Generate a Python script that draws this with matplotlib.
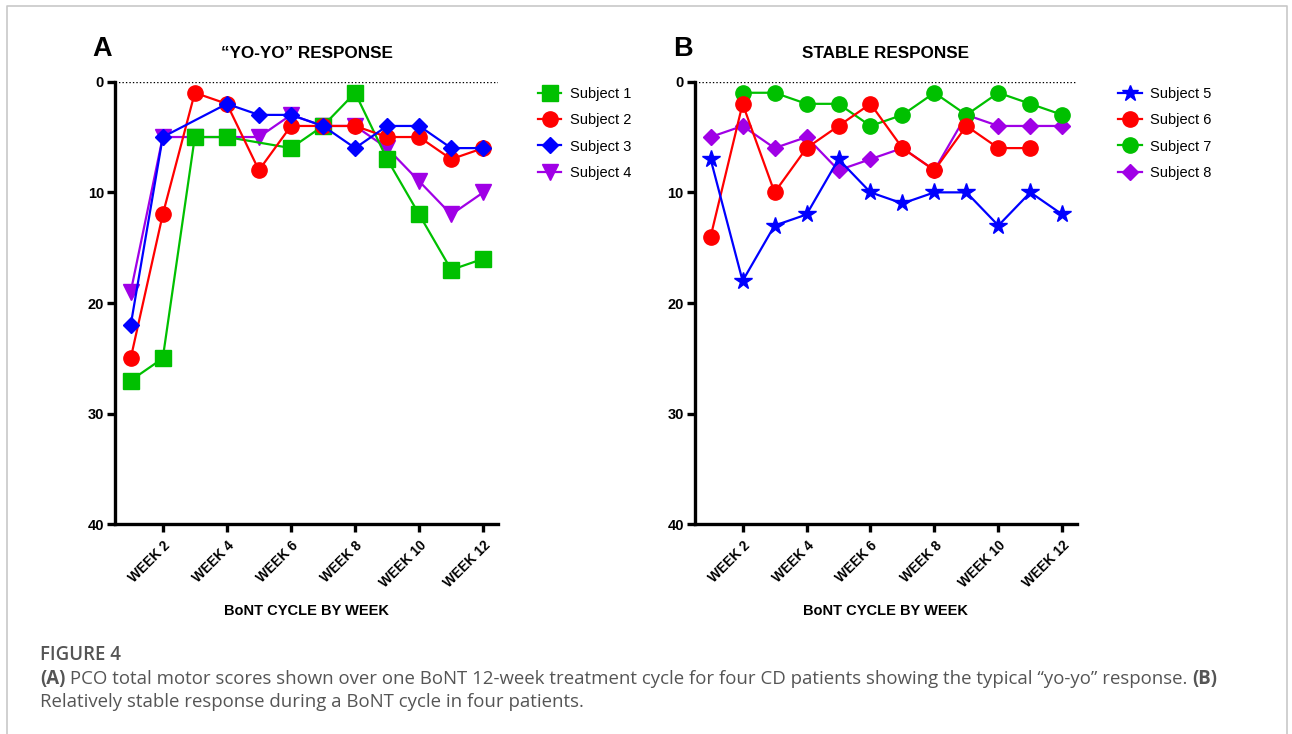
import numpy as np
import matplotlib

matplotlib.use("Agg")
import matplotlib.pyplot as plt
from matplotlib.lines import Line2D

plt.rcParams["font.family"] = ["Liberation Sans", "DejaVu Sans"]

# semanas del ciclo
weeks = np.arange(1, 13)
week_ticks = [2, 4, 6, 8, 10, 12]
week_labels = ["WEEK 2", "WEEK 4", "WEEK 6", "WEEK 8", "WEEK 10", "WEEK 12"]
nan = np.nan

# Panel A: respuesta "yo-yo"
subject1 = [27, 25, 5, 5, nan, 6, 4, 1, 7, 12, 17, 16]
subject2 = [25, 12, 1, 2, 8, 4, 4, 4, 5, 5, 7, 6]
subject3 = [22, 5, nan, 2, 3, 3, 4, 6, 4, 4, 6, 6]
subject4 = [19, 5, 5, 5, 5, 3, 4, 4, 6, 9, 12, 10]

# Panel B: respuesta estable
subject5 = [7, 18, 13, 12, 7, 10, 11, 10, 10, 13, 10, 12]
subject6 = [14, 2, 10, 6, 4, 2, 6, 8, 4, 6, 6, nan]
subject7 = [nan, 1, 1, 2, 2, 4, 3, 1, 3, 1, 2, 3]
subject8 = [5, 4, 6, 5, 8, 7, 6, 8, 3, 4, 4, 4]

GREEN = "#00C000"
RED = "#FF0000"
BLUE = "#0000FF"
PURPLE = "#A000E6"

fig = plt.figure(figsize=(12.92, 7.34), dpi=100)


def serie(ax, y, color, marker, ms, z):
    y = np.array(y, dtype=float)
    ok = ~np.isnan(y)
    ax.plot(weeks[ok], y[ok], color=color, marker=marker, ms=ms, lw=1.6,
            mec=color, zorder=z, clip_on=False)


def estilo(ax, title, letter):
    ax.set_xlim(0.51, 12.46)
    ax.set_ylim(40, 0)
    ax.axhline(0, color="black", ls=(0, (1, 1.5)), lw=1.0, zorder=1)
    for s in ["top", "right"]:
        ax.spines[s].set_visible(False)
    for s in ["left", "bottom"]:
        ax.spines[s].set_linewidth(2.4)
    ax.set_yticks([0, 10, 20, 30, 40])
    ax.set_xticks(week_ticks)
    ax.set_xticklabels(week_labels, rotation=45, ha="right", va="top",
                       rotation_mode="anchor", fontweight="bold", fontsize=9.8)
    ax.tick_params(axis="both", width=2.4, length=6)
    ax.tick_params(axis="y", labelsize=10.5, pad=2)
    for t in ax.get_yticklabels():
        t.set_fontweight("bold")
    ax.tick_params(axis="x", pad=4)
    ax.set_xlabel("BoNT CYCLE BY WEEK", fontweight="bold", fontsize=10.5,
                  labelpad=10)
    ax.set_title(title, fontweight="bold", fontsize=12.3, pad=17)
    ax.text(-0.058, 1.045, letter, transform=ax.transAxes, fontsize=19.5,
            fontweight="bold", ha="left", va="bottom")


axA = fig.add_axes([0.089, 0.2856, 0.2965, 0.6031])
serie(axA, subject4, PURPLE, "v", 11, 3)
serie(axA, subject1, GREEN, "s", 12, 4)
serie(axA, subject2, RED, "o", 11, 5)
serie(axA, subject3, BLUE, "D", 8, 6)
estilo(axA, "\u201cYO-YO\u201d RESPONSE", "A")

axB = fig.add_axes([0.5379, 0.2856, 0.2957, 0.6031])
serie(axB, subject8, PURPLE, "D", 8, 3)
serie(axB, subject7, GREEN, "o", 11, 4)
serie(axB, subject6, RED, "o", 11, 5)
serie(axB, subject5, BLUE, "*", 13, 6)
estilo(axB, "STABLE RESPONSE", "B")


def leyenda(items, x):
    handles = [Line2D([], [], color=c, marker=m, ms=s, lw=1.6, label=l)
               for l, c, m, s in items]
    fig.legend(handles=handles, loc="upper left",
               bbox_to_anchor=(x, 0.889), frameon=False, fontsize=10.5,
               handlelength=1.6, handletextpad=0.6, labelspacing=0.83,
               borderaxespad=0)


leyenda([("Subject 1", GREEN, "s", 11), ("Subject 2", RED, "o", 11),
         ("Subject 3", BLUE, "D", 8), ("Subject 4", PURPLE, "v", 11)], 0.412)
leyenda([("Subject 5", BLUE, "*", 12), ("Subject 6", RED, "o", 11),
         ("Subject 7", GREEN, "o", 11), ("Subject 8", PURPLE, "D", 8)], 0.861)

# marco y pie de figura
over = fig.add_axes([0, 0, 1, 1], zorder=-1)
over.set_xlim(0, 1292)
over.set_ylim(734, 0)
over.axis("off")
over.plot([6.5, 6.5, 1286.5, 1286.5], [740, 5.5, 5.5, 740], color="#c8c8c8",
          lw=1.2, clip_on=False)

cap = dict(family=["Open Sans", "DejaVu Sans"], fontsize=13.4,
           color="#555555", va="baseline", ha="left")
over.text(40, 660, "FIGURE 4", fontweight="semibold", **cap)

renderer = fig.canvas.get_renderer()


def linea(partes, y):
    x = 40
    for txt, peso in partes:
        t = over.text(x, y, txt, fontweight=peso, **cap)
        bb = t.get_window_extent(renderer=renderer)
        x += bb.width  # 1 px = 1 unidad en este eje


linea([("(A)", "bold"),
       (" PCO total motor scores shown over one BoNT 12-week treatment cycle "
        "for four CD patients showing the typical \u201cyo-yo\u201d response. ",
        "normal"),
       ("(B)", "bold")], 684)
linea([("Relatively stable response during a BoNT cycle in four patients.",
        "normal")], 707)

fig.savefig("out.png", dpi=100)
